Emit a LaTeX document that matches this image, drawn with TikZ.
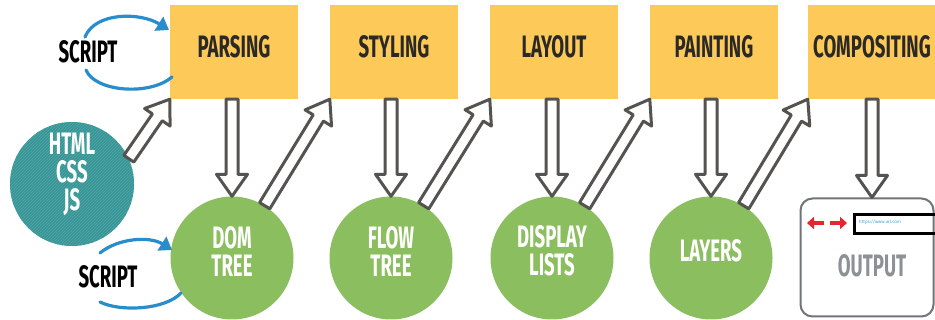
\documentclass[tikz,border=0pt]{standalone}
\usepackage{fontspec}
\setmainfont{Fira Sans}
\newfontfamily\din{Fira Sans}[FakeStretch=0.6]
\usetikzlibrary{calc,patterns,arrows.meta}
\definecolor{boxy}{HTML}{FDC958}
\definecolor{boxtext}{HTML}{2B2926}
\definecolor{grn}{HTML}{8BBE5F}
\definecolor{teal1}{HTML}{3A9696}
\definecolor{teal2}{HTML}{4FA6A6}
\definecolor{agray}{HTML}{555350}
\definecolor{sblue}{HTML}{2A8DCB}
\definecolor{ogray}{HTML}{8C9196}
\definecolor{ured}{HTML}{E3262F}
\definecolor{ublue}{HTML}{3AA0D8}
\tikzset{
  lbl/.style={font=\din\bfseries\fontsize{31}{28}\selectfont},
  stagebox/.style={lbl, fill=boxy, minimum width=128pt, minimum height=94pt, inner sep=0pt, text=boxtext, text height=21pt, text depth=10pt},
  datacirc/.style={circle, fill=grn, minimum size=123pt, inner sep=0pt},
  circtext/.style={lbl, align=center, text=white, inner sep=0pt},
  hollow/.style={draw=agray, line width=3pt, fill=white, line join=round},
  scriptarc/.style={draw=sblue, line width=3.2pt, line cap=round},
  scripthead/.style={scriptarc, -{Triangle[length=12pt,width=16pt]}},
}
\newcommand\harrow[2]{%
  \coordinate (hb) at ($(#2)!22pt!(#1)$);
  \draw[hollow] ($(#1)!6pt!90:(#2)$) -- ($(hb)!6pt!-90:(#1)$) -- ($(hb)!15.5pt!-90:(#1)$) -- (#2)
    -- ($(hb)!15.5pt!90:(#1)$) -- ($(hb)!6pt!90:(#1)$) -- ($(#1)!6pt!-90:(#2)$) -- cycle;}
\begin{document}
\begin{tikzpicture}[x=1pt,y=-1pt]
\useasboundingbox (0,0) rectangle (935,320);
% stages
\node[stagebox] (parsing) at (234,52) {PARSING};
\node[stagebox] (styling) at (394,52) {STYLING};
\node[stagebox] (layout) at (554,52) {LAYOUT};
\node[stagebox] (painting) at (714,52) {PAINTING};
\node[stagebox] (compositing) at (872,52) {COMPOSITING};
% data
\node[datacirc] (dom) at (232,258) {};
\node[datacirc] (flow) at (391,258) {};
\node[datacirc] (display) at (552,258) {};
\node[datacirc] (layers) at (711,258) {};
\node[circtext] (domt) at (232,251) {DOM\\TREE};
\node[circtext] (flowt) at (391,251) {FLOW\\TREE};
\node[circtext] (displayt) at (552,251) {DISPLAY\\LISTS};
\node[circtext] (layerst) at (711,251) {LAYERS};
\node[circle, minimum size=124pt, inner sep=0pt,
      preaction={fill=teal1}, pattern=north east lines, pattern color=teal2] (src) at (72,184) {};
\node[circtext] (srct) at (72,174) {HTML\\CSS\\JS};
% output window
\node[draw=ogray!80!black, line width=2pt, rounded corners=12pt, minimum width=133pt, minimum height=118pt, inner sep=0pt] (out) at (867,257.5) {};
\node[lbl, text=ogray] (outlbl) at (872,266) {OUTPUT};
\node[draw=black, line width=3pt, minimum width=84pt, minimum height=19pt, anchor=north west, inner sep=0pt] (url) at (853,213) {};
\node[anchor=west, text=ublue, font=\fontsize{4.5}{5}\selectfont, inner sep=0pt] (urltext) at (859,222.5) {https://www.url.com};
\coordinate (la) at (824,223); \coordinate (lb) at (807,223);
\coordinate (ra) at (830,223); \coordinate (rb) at (847,223);
\draw[ured, line width=3.5pt, -{Triangle[length=7pt,width=12pt]}] (la) -- (lb);
\draw[ured, line width=3.5pt, -{Triangle[length=7pt,width=12pt]}] (ra) -- (rb);
% script loops
\node[lbl, text=black] (script1) at (88,52) {SCRIPT};
\node[lbl, text=black] (script2) at (108,277) {SCRIPT};
\coordinate (s1a) at (85,37); \coordinate (s1b) at (169,30);
\coordinate (s1c) at (86,70); \coordinate (s1d) at (172,77);
\draw[scripthead] (s1a) .. controls (95,12) and (140,12) .. (s1b);
\draw[scriptarc] (s1c) .. controls (95,92) and (150,96) .. (s1d);
\coordinate (s2a) at (100,253); \coordinate (s2b) at (172,250);
\coordinate (s2c) at (100,302); \coordinate (s2d) at (181,293);
\draw[scripthead] (s2a) .. controls (118,238) and (150,236) .. (s2b);
\draw[scriptarc] (s2c) .. controls (120,312) and (165,310) .. (s2d);
% hollow arrows
\harrow{src.24}{parsing.south west}
\harrow{dom.north |- parsing.south}{dom.north}
\harrow{flow.north |- styling.south}{flow.north}
\harrow{display.north |- layout.south}{display.north}
\harrow{layers.north |- painting.south}{layers.north}
\harrow{compositing.south -| outlbl}{out.north -| outlbl}
\harrow{dom.58}{styling.south west}
\harrow{flow.58}{layout.south west}
\harrow{display.58}{painting.south west}
\harrow{layers.58}{compositing.south west}
\end{tikzpicture}
\end{document}
